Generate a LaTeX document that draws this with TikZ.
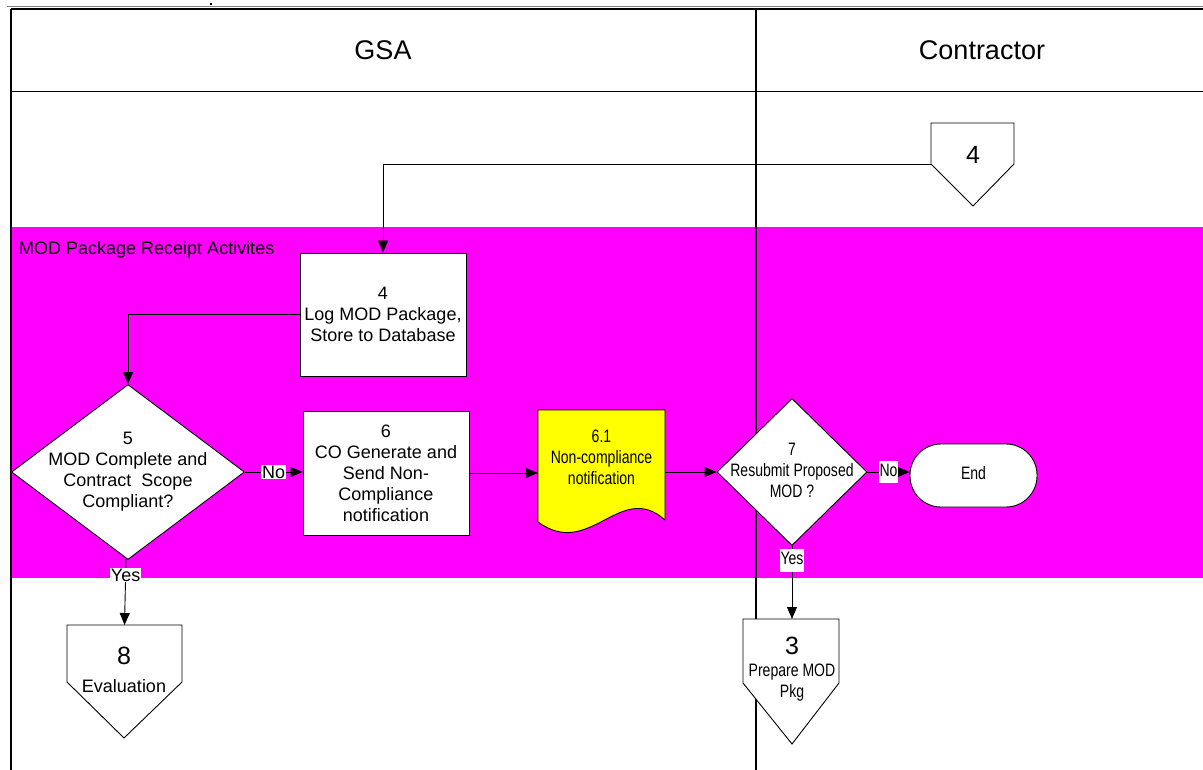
\documentclass[tikz,border=0pt]{standalone}
\usepackage{fontspec}
\setmainfont{Liberation Sans}
\usepackage{graphicx}
\usetikzlibrary{arrows.meta, shapes.geometric}
\definecolor{LaneMagenta}{RGB}{255,0,255}
\definecolor{DocYellow}{RGB}{255,255,0}
\newcommand{\nrw}[1]{\scalebox{0.78}[1]{\begin{tabular}{@{}c@{}}#1\end{tabular}}}

\begin{document}
\begin{tikzpicture}[x=1pt, y=-1pt,
    txt/.style={font=\fontsize{18}{21}\selectfont, align=center},
    box/.style={draw=black, fill=white, line width=0.9pt, txt, inner sep=1pt},
    decision/.style={diamond, draw=black, fill=white, line width=0.9pt, inner sep=0pt},
    term/.style={draw=black, fill=white, line width=0.9pt, rounded corners=31pt, minimum width=127pt, minimum height=63pt, txt},
    conn/.style={draw=black, fill=white, line width=0.9pt},
    big/.style={font=\fontsize{25}{28}\selectfont},
    lbl/.style={fill=white, inner sep=0.8pt, font=\fontsize{18}{21}\selectfont},
    arr/.style={line width=0.9pt, -{Triangle[length=12pt, width=10pt]}}]
    \useasboundingbox (0,0) rectangle (1203,770);

    % lane band
    \fill[LaneMagenta] (11,227) rectangle (1203,578);

    % frame
    \draw[gray, line width=1pt] (7,7) -- (1203,7);
    \draw[line width=1.4pt] (11,9) -- (1203,9);
    \draw[line width=1.6pt] (11,9) -- (11,770);
    \draw[line width=1.6pt] (756,9) -- (756,770);
    \draw[line width=1pt] (11,92) -- (1203,92);
    \fill (210,3) rectangle (212,5);

    \node[font=\fontsize{27}{32}\selectfont, anchor=base] (gsa) at (383,60) {GSA};
    \node[font=\fontsize{27}{32}\selectfont, anchor=base] (contr) at (982,60) {Contractor};
    \node[txt, anchor=base west, inner sep=0pt] (lane) at (19,255) {MOD Package Receipt Activites};

    % off-page connectors
    \draw[conn] (931,123) -- (1014,123) -- (1014,164) -- (973,206) -- (931,164) -- cycle;
    \coordinate (c4) at (931,164);
    \node[big] (n4) at (973,155) {4};

    \draw[conn] (67,625) -- (182,625) -- (182,682) -- (124,738) -- (67,682) -- cycle;
    \coordinate (c8) at (124.5,625);
    \node[big] (n8) at (124,656) {8};
    \node[txt] (t8) at (124,686) {Evaluation};

    \draw[conn] (743,619) -- (839,619) -- (839,683) -- (792,744) -- (743,683) -- cycle;
    \coordinate (c3) at (792,619);
    \node[big] (n3) at (792,646) {3};
    \node[txt] (t3) at (792,683) {\nrw{Prepare MOD\\Pkg}};

    % process steps
    \node[box, minimum width=166, minimum height=123] (b4) at (383,314.5) {4\\Log MOD Package,\\Store to Database};
    \node[decision, minimum width=233, minimum height=175,
          label={[txt]center:{5\\MOD Complete and\\Contract\ \ Scope\\Compliant?}}] (d5) at (128,472) {};
    \node[box, minimum width=166, minimum height=124] (b6) at (386,473) {6\\CO Generate and\\Send Non-\\Compliance\\notification};

    \draw[line width=0.9pt, fill=DocYellow] (538,410) -- (665,410) -- (665,520) .. controls (620,480) and (590,560) .. (538,522) -- cycle;
    \node[minimum width=127, minimum height=112, inner sep=0pt,
          label={[txt, yshift=6.5pt]center:{\nrw{6.1\\Non-compliance\\notification}}}] (doc) at (601.5,466) {};

    \node[decision, minimum width=150, minimum height=147,
          label={[txt]center:{\nrw{7\\Resubmit Proposed\\MOD ?}}}] (d7) at (792,472) {};
    \node[term] (endt) at (973.5,475.5) {\nrw{End}};

    % connectors
    \draw[arr] (c4) -| (b4);
    \draw[arr] (b4) -| (d5);
    \draw[arr] (d5) -- node[lbl]{No} (d5 -| b6.west);
    \draw[arr] (d5) -- node[lbl, pos=0.25]{Yes} (c8);
    \draw[arr] (b6.east) -- (b6.east -| doc.west);
    \draw[arr] (doc.east |- d7) -- (d7);
    \draw[arr] (d7) -- node[lbl]{\nrw{No}} (d7 -| endt.west);
    \draw[arr] (d7) -- node[lbl, pos=0.2]{\nrw{Yes}} (c3);
\end{tikzpicture}
\end{document}
